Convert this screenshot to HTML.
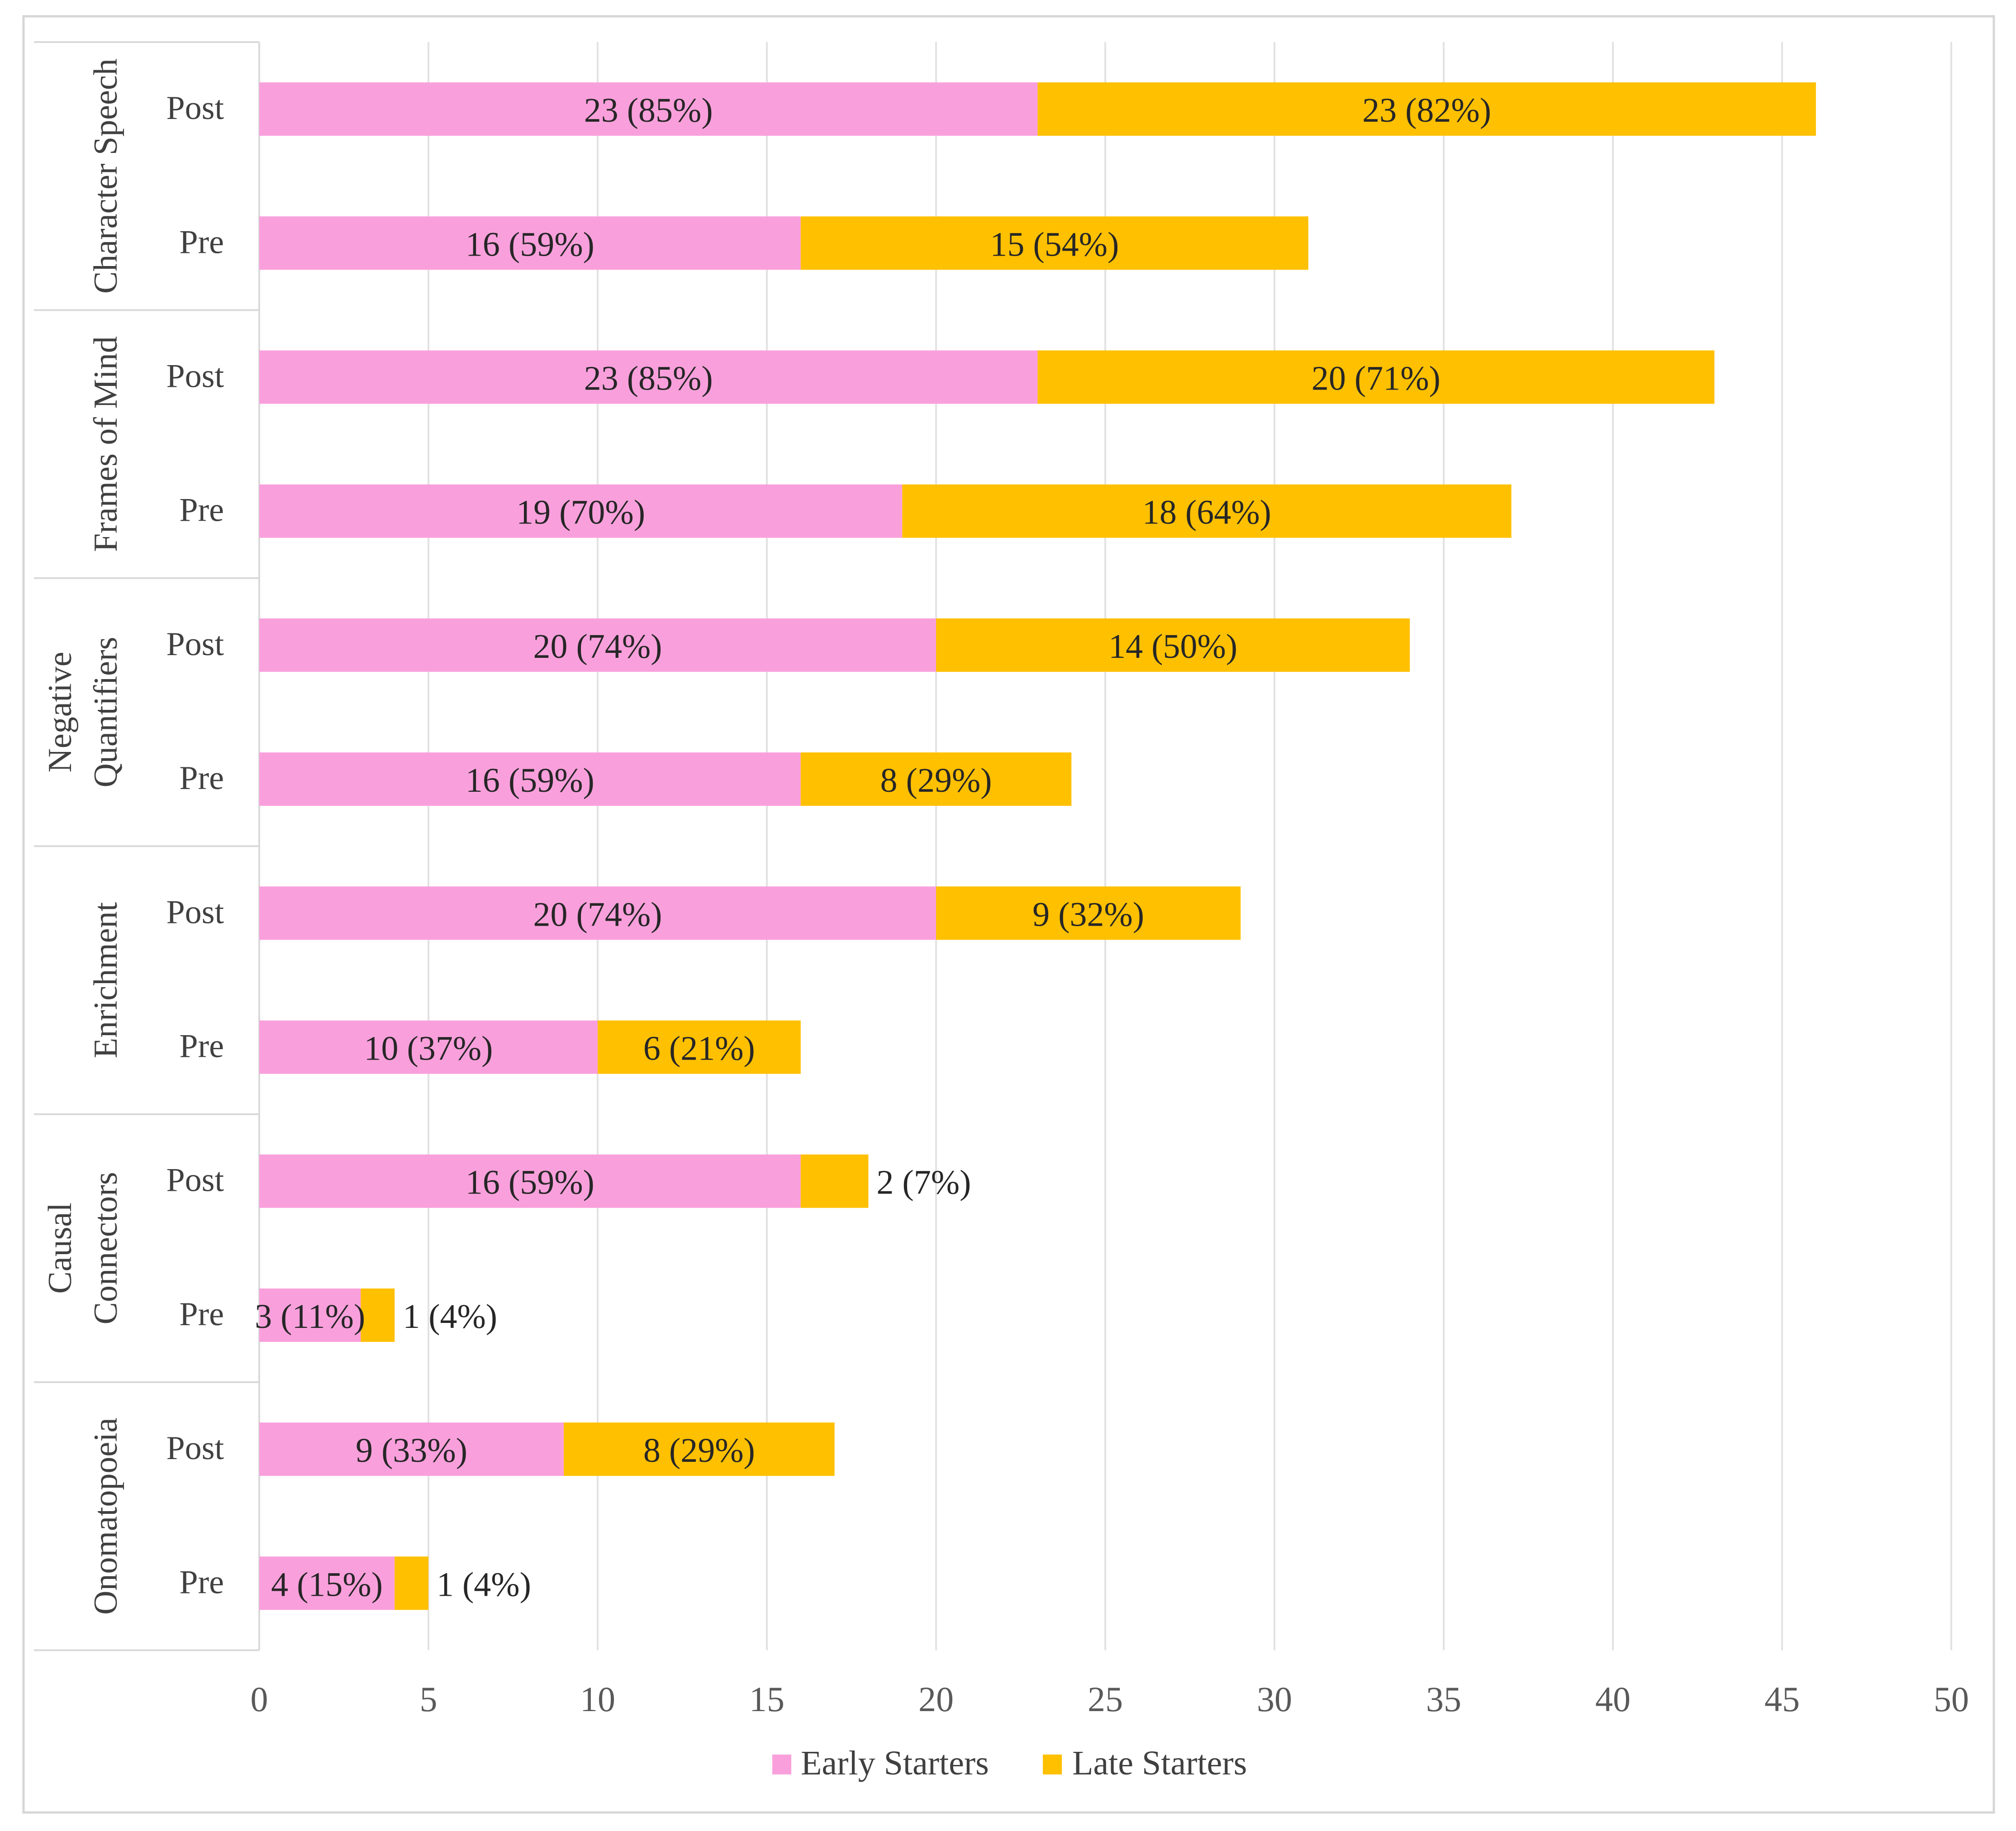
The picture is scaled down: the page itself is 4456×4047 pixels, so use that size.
<!DOCTYPE html>
<html><head><meta charset="utf-8"><style>
html,body{margin:0;padding:0;background:#fff;}
svg{display:block;font-family:"Liberation Serif",serif;}
</style></head><body>
<svg id="chart" width="4456" height="4047" viewBox="0 0 4456 4047" xmlns="http://www.w3.org/2000/svg">
<rect x="52" y="36" width="4355" height="3970" fill="#fff" stroke="#d6d6d6" stroke-width="5"/>
<g id="grid"></g><g id="cats"></g><g id="bars"></g><g id="labels"></g><g id="ticks"></g>
<g>
<g><rect x="1707" y="3878" width="42" height="44" fill="#F9A0DC"/><text x="1770" y="3922" font-size="76" fill="#404040">Early Starters</text></g>
<g><rect x="2305" y="3878" width="42" height="44" fill="#FFC000"/><text x="2370" y="3922" font-size="76" fill="#404040">Late Starters</text></g>
</g>
</svg>
<script>
const groups = [["Character Speech"],["Frames of Mind"],["Negative","Quantifiers"],["Enrichment"],["Causal","Connectors"],["Onomatopoeia"]];
const rowLabels = ["Post","Pre","Post","Pre","Post","Pre","Post","Pre","Post","Pre","Post","Pre"];
const earlyValues = [23,16,23,19,20,16,20,10,16,3,9,4];
const earlyPct = [85,59,85,70,74,59,74,37,59,11,33,15];
const lateValues = [23,15,20,18,14,8,9,6,2,1,8,1];
const latePct = [82,54,71,64,50,29,32,21,7,4,29,4];
const xTicks = [0,5,10,15,20,25,30,35,40,45,50];

const NS="http://www.w3.org/2000/svg";
const X0=573, UNIT=74.8, TOP=93, STEP=296.2, BH=118;
const xs=v=>X0+v*UNIT;
const yc=i=>TOP+(i+0.5)*STEP;
function mk(tag,attrs,parent){const e=document.createElementNS(NS,tag);for(const k in attrs)e.setAttribute(k,attrs[k]);parent.appendChild(e);return e;}
const grid=document.getElementById('grid'),cats=document.getElementById('cats'),bars=document.getElementById('bars'),labels=document.getElementById('labels'),ticks=document.getElementById('ticks');
const bottom=TOP+rowLabels.length*STEP;
xTicks.forEach(t=>{
  if(t>0){const l=mk('line',{x1:xs(t),x2:xs(t),y1:TOP,y2:bottom,stroke:'#e2e2e2','stroke-width':4},grid);
  
  }
  const tx=mk('text',{x:xs(t),y:3782,'font-size':78,fill:'#595959','text-anchor':'middle'},ticks);
  tx.textContent=t;
  
  
});
const ax=mk('line',{x1:X0,x2:X0,y1:TOP,y2:bottom,stroke:'#d9d9d9','stroke-width':4},grid);


for(let g=0;g<=groups.length;g++){
  const y=TOP+g*2*STEP;
  const l=mk('line',{x1:75,x2:X0,y1:y,y2:y,stroke:'#d9d9d9','stroke-width':4},grid);
  
  
}
groups.forEach((lines,g)=>{
  const cy=TOP+(2*g+1)*STEP;
  lines.forEach((s,k)=>{
    const bx = lines.length===1?258:(k===0?157:258);
    const t=mk('text',{x:bx,y:cy,'font-size':74,fill:'#404040','text-anchor':'middle',transform:`rotate(-90 ${bx} ${cy})`},cats);
    t.textContent=s;
    
    
  });
});
rowLabels.forEach((r,i)=>{
  const t=mk('text',{x:495,y:yc(i)+22,'font-size':74,fill:'#404040','text-anchor':'end'},cats);
  t.textContent=r;
  
  
  const e=earlyValues[i], l=lateValues[i];
  const y=yc(i)-BH/2;
  const b1=mk('rect',{x:xs(0),y:y,width:xs(e)-xs(0),height:BH,fill:'#F9A0DC'},bars);
  
  
  const b2=mk('rect',{x:xs(e),y:y,width:xs(e+l)-xs(e),height:BH,fill:'#FFC000'},bars);
  
  
  const t1=mk('text',{x:(xs(0)+xs(e))/2,y:yc(i)+28,'font-size':76,fill:'#262626','text-anchor':'middle'},labels);
  t1.textContent=e+' ('+earlyPct[i]+'%)';
  
  
  const w=xs(e+l)-xs(e);
  const inside=w>300;
  const t2=mk('text',{x:inside?(xs(e)+xs(e+l))/2:xs(e+l)+18,y:yc(i)+28,'font-size':76,fill:'#262626','text-anchor':inside?'middle':'start'},labels);
  t2.textContent=l+' ('+latePct[i]+'%)';
  
  
});
</script>
</body></html>
